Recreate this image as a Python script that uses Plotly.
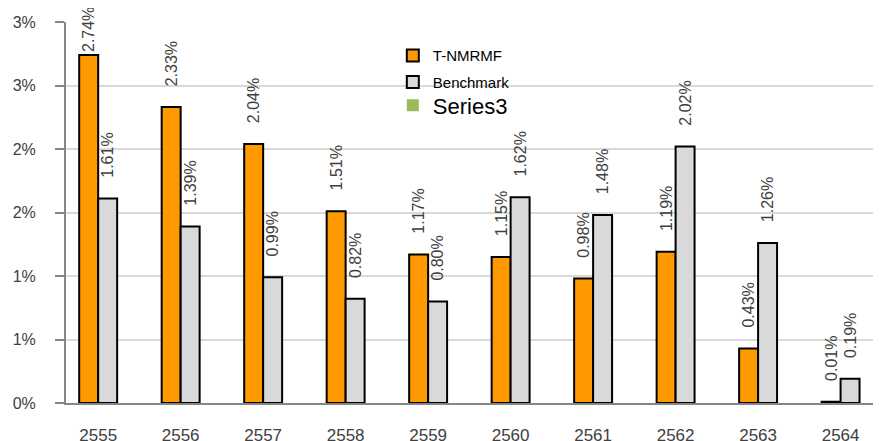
import plotly.graph_objects as go

years = ["2555", "2556", "2557", "2558", "2559", "2560", "2561", "2562", "2563", "2564"]
t_nmrmf = [2.74, 2.33, 2.04, 1.51, 1.17, 1.15, 0.98, 1.19, 0.43, 0.01]
benchmark = [1.61, 1.39, 0.99, 0.82, 0.80, 1.62, 1.48, 2.02, 1.26, 0.19]
y_tickvals = [0, 0.5, 1.0, 1.5, 2.0, 2.5, 3.0]
y_ticktext = ["0%", "1%", "1%", "2%", "2%", "3%", "3%"]

PAD = "\u00a0\u00a0\u00a0\u00a0"

def labels(vals, first_pad=True):
    out = []
    for i, v in enumerate(vals):
        out.append((PAD if (first_pad or i > 0) else "") + f"{v:.2f}%")
    return out

FONT = "Liberation Sans, Arial"

fig = go.Figure()
fig.add_trace(go.Bar(
    x=years, y=t_nmrmf, name="T-NMRMF",
    marker=dict(color="#FF9900", line=dict(color="#000000", width=2)),
    text=labels(t_nmrmf, first_pad=False), textposition="outside", textangle=-90,
    constraintext="none",
    textfont=dict(family=FONT, size=16, color="#404040"),
    cliponaxis=False, legend="legend", offsetgroup="a", legendgroup="a",
))
fig.add_trace(go.Bar(
    x=years, y=benchmark, name="Benchmark",
    marker=dict(color="#D9D9D9", line=dict(color="#000000", width=2)),
    text=labels(benchmark), textposition="outside", textangle=-90,
    constraintext="none",
    textfont=dict(family=FONT, size=16, color="#404040"),
    cliponaxis=False, legend="legend", offsetgroup="b", legendgroup="b",
))
fig.add_trace(go.Bar(
    x=[None], y=[None], name="Series3",
    marker=dict(color="#9BBB59", line=dict(width=0)),
    showlegend=True, legend="legend2", offsetgroup="a", legendgroup="c",
))

fig.update_layout(
    width=873, height=433,
    margin=dict(l=58, r=0, t=14, b=38),
    paper_bgcolor="white", plot_bgcolor="white",
    barmode="group", bargap=0.54, bargroupgap=0,
    font=dict(family=FONT, color="#404040", size=16),
    legend=dict(
        x=0.401, y=0.955, xanchor="left", yanchor="top",
        bgcolor="rgba(0,0,0,0)", font=dict(size=15, color="#000000"),
        tracegroupgap=4, itemwidth=30,
    ),
    legend2=dict(
        x=0.401, y=0.836, xanchor="left", yanchor="top",
        bgcolor="rgba(0,0,0,0)", font=dict(size=22, color="#000000"),
        itemwidth=30,
    ),
    showlegend=True,
)
fig.update_xaxes(
    type="category", range=[-0.39, 9.49], automargin=False,
    showline=True, linecolor="#868686", linewidth=2,
    ticks="", ticklabelstandoff=16, showgrid=False,
    tickfont=dict(size=17, color="#404040"),
)
fig.update_yaxes(
    range=[0, 3.0], automargin=False,
    tickvals=y_tickvals, ticktext=y_ticktext,
    showline=True, linecolor="#868686", linewidth=2,
    ticks="outside", ticklen=9, tickcolor="#868686", tickwidth=2,
    ticklabelstandoff=16,
    showgrid=True, gridcolor="#D9D9D9", gridwidth=2,
    zeroline=False,
    tickfont=dict(size=16, color="#404040"),
)

fig.write_html("out.html")
